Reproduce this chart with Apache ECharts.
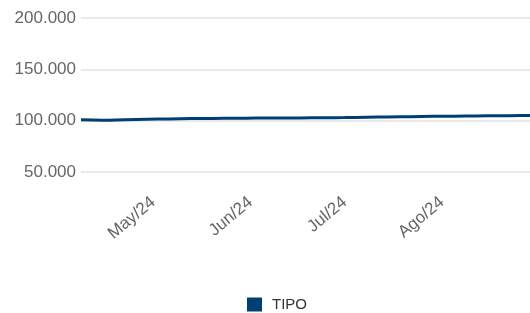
<!DOCTYPE html>
<html>
<head>
<meta charset="utf-8">
<script src="https://cdn.jsdelivr.net/npm/echarts@6/dist/echarts.min.js"></script>
<style>
html,body{margin:0;padding:0;background:#fff;}
#chart{width:530px;height:313px;}
</style>
</head>
<body>
<div id="chart"></div>
<script>
const seriesName = 'TIPO';
const dates = ['2024-04-08','2024-04-15','2024-04-22','2024-04-29','2024-05-06','2024-05-13','2024-05-20','2024-05-27','2024-06-03','2024-06-10','2024-06-17','2024-06-24','2024-07-01','2024-07-08','2024-07-15','2024-07-22','2024-07-29','2024-08-05','2024-08-12','2024-08-19','2024-08-26','2024-08-29'];
const values = [100800,100500,100900,101300,101700,102000,102200,102400,102500,102600,102700,102800,103000,103300,103600,103900,104200,104400,104600,104800,105000,105100];
const monthTicks = ['2024-05-01','2024-06-01','2024-07-01','2024-08-01'];
const monthNames = ['Ene','Feb','Mar','Abr','May','Jun','Jul','Ago','Sep','Oct','Nov','Dic'];
const yTicks = [50000,100000,150000,200000];

function parseLocal(s){const p=s.split('-').map(Number);return new Date(p[0],p[1]-1,p[2]).getTime();}
function fmtNum(v){return String(v).replace(/\B(?=(\d{3})+(?!\d))/g,'.');}

const chart = echarts.init(document.getElementById('chart'));
chart.setOption({
  animation:false,
  grid:{left:81,right:0,top:18,bottom:141,containLabel:false},
  legend:{
    data:[seriesName],top:297,left:247,padding:0,icon:'rect',itemWidth:15,itemHeight:14,itemGap:8,
    textStyle:{fontSize:15,color:'#333',padding:[0,0,0,5],fontFamily:'Liberation Sans, Arial, sans-serif'}
  },
  xAxis:{
    type:'value',
    min:parseLocal('2024-04-08'),max:parseLocal('2024-08-29'),
    axisLine:{show:false},axisTick:{show:false},splitLine:{show:false},
    axisLabel:{
      customValues:monthTicks.map(parseLocal),
      rotate:40,margin:28,fontSize:17,color:'#666',
      fontFamily:'Liberation Sans, Arial, sans-serif',
      hideOverlap:false,showMinLabel:true,showMaxLabel:true,
      formatter:function(v){const d=new Date(v);return monthNames[d.getMonth()]+'/'+String(d.getFullYear()).slice(2);}
    }
  },
  yAxis:{
    type:'value',min:yTicks[0],max:yTicks[yTicks.length-1],interval:50000,
    axisLine:{show:false},axisTick:{show:false},
    splitLine:{show:true,lineStyle:{color:'#e3e3e3',width:1.5}},
    axisLabel:{margin:5,fontSize:17,color:'#666',fontFamily:'Liberation Sans, Arial, sans-serif',formatter:fmtNum}
  },
  series:[{
    name:seriesName,type:'line',showSymbol:false,smooth:true,
    data:dates.map((d,i)=>[parseLocal(d),values[i]]),
    itemStyle:{color:'#003f73'},
    lineStyle:{color:'#003f73',width:3}
  }]
});
</script>
</body>
</html>
